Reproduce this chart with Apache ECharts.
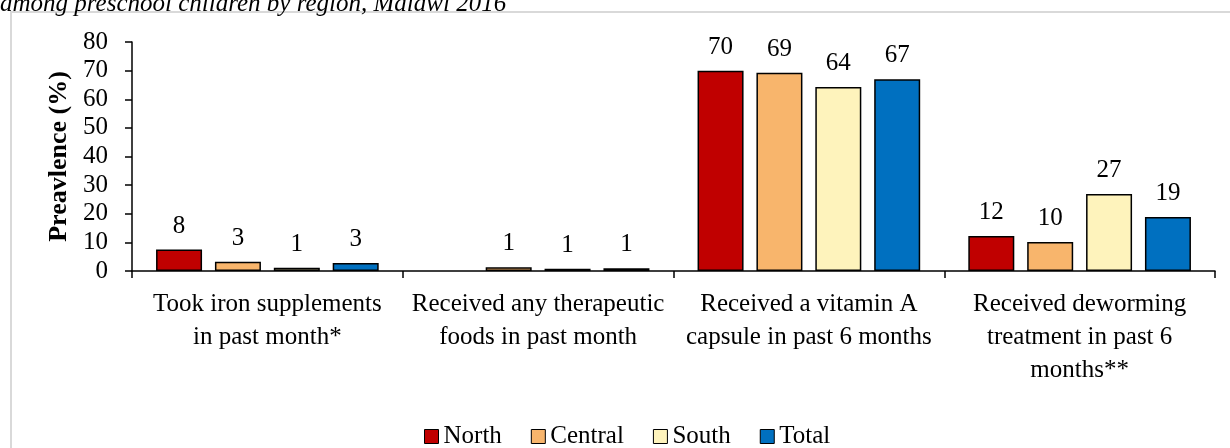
<!DOCTYPE html>
<html>
<head>
    <meta charset="UTF-8">
    <title></title>
    <script src="https://cdn.jsdelivr.net/npm/echarts@6/dist/echarts.min.js"></script>
    <style>
        *{margin:0;padding:0;}
        body,html{
            width: 1230px;
            height: 448px;
            background: #fff;
            overflow: hidden;
        }
        .frame{
            position: absolute;
            left: 10px;
            top: 11px;
            width: 1400px;
            height: 600px;
            border-left: 2px solid #d9d9d9;
            border-top: 2px solid #d9d9d9;
        }
        #main{
            position: absolute;
            left: 0;
            top: 0;
            width: 1230px;
            height: 448px;
        }
    </style>
</head>
<body>
<div class="frame"></div>
<div id="main"></div>
<script>
    // categories and values
    var categories = [
        'Took iron supplements\nin past month*',
        'Received any therapeutic\nfoods in past month',
        'Received a vitamin A\ncapsule in past 6 months',
        'Received deworming\ntreatment in past 6\nmonths**'
    ];
    var north = [7.5, '-', 70.0, 12.2];
    var central = [3.2, 1.3, 69.3, 10.1];
    var south = [1.15, 0.8, 64.3, 26.9];
    var total = [2.8, 1.0, 67.0, 18.9];

    var font = 'Liberation Serif';

    function makeSeries(name, data, color){
        return {
            name: name,
            type: 'bar',
            data: data,
            barWidth: 46,
            barGap: '28%',
            itemStyle: { color: color, borderColor: '#000', borderWidth: 1.5 },
            label: {
                show: true,
                position: 'top',
                distance: 11,
                color: '#000',
                fontFamily: font,
                fontSize: 25,
                formatter: function(p){ return Math.round(p.value); }
            }
        };
    }

    var myChart = echarts.init(document.getElementById('main'));
    var option = {
        animation: false,
        textStyle: { fontFamily: font },
        graphic: [{
            type: 'text',
            left: 0,
            top: -8,
            style: {
                text: 'among preschool children by region, Malawi 2016',
                fontFamily: font,
                fontStyle: 'italic',
                fontSize: 25,
                fill: '#000'
            }
        }],
        grid: { left: 132, right: 15, top: 42, bottom: 177 },
        legend: {
            top: 424,
            left: 424,
            padding: 0,
            itemWidth: 14,
            itemHeight: 14,
            itemGap: 29,
            textStyle: { fontFamily: font, fontSize: 25, color: '#000' },
            data: [
                { name: 'North', icon: 'rect', itemStyle: { borderColor: '#000', borderWidth: 1 } },
                { name: 'Central', icon: 'rect', itemStyle: { borderColor: '#000', borderWidth: 1 } },
                { name: 'South', icon: 'rect', itemStyle: { borderColor: '#000', borderWidth: 1 } },
                { name: 'Total', icon: 'rect', itemStyle: { borderColor: '#000', borderWidth: 1 } }
            ]
        },
        xAxis: {
            type: 'category',
            data: categories,
            axisLine: { lineStyle: { color: '#000', width: 1.5 } },
            axisTick: { show: true, length: 7, lineStyle: { color: '#000', width: 1.5 } },
            axisLabel: {
                interval: 0,
                margin: 17,
                color: '#000',
                fontFamily: font,
                fontSize: 25,
                lineHeight: 33,
                align: 'center'
            }
        },
        yAxis: {
            type: 'value',
            min: 0,
            max: 80,
            interval: 10,
            name: 'Preavlence (%)',
            nameLocation: 'middle',
            nameGap: 60,
            nameRotate: 90,
            nameTextStyle: { fontFamily: font, fontSize: 26, fontWeight: 'bold', color: '#000' },
            axisLine: { show: true, lineStyle: { color: '#000', width: 1.5 } },
            axisTick: { show: true, length: 7, lineStyle: { color: '#000', width: 1.5 } },
            splitLine: { show: false },
            axisLabel: { margin: 24, color: '#000', fontFamily: font, fontSize: 25 }
        },
        series: [
            makeSeries('North', north, '#C00000'),
            makeSeries('Central', central, '#F8B56C'),
            makeSeries('South', south, '#FEF3BC'),
            makeSeries('Total', total, '#0070C0')
        ]
    };
    myChart.setOption(option);
</script>
</body>
</html>
